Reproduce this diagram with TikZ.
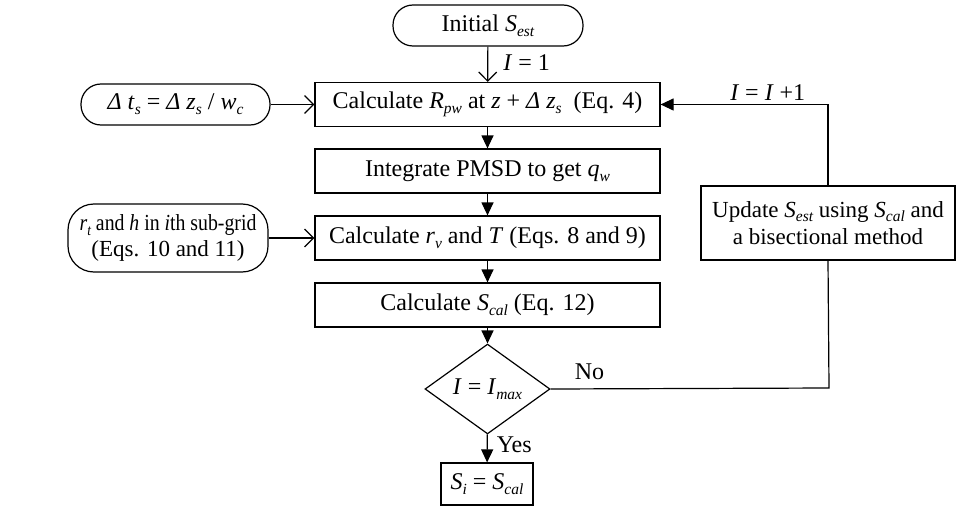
\documentclass[tikz,border=0pt]{standalone}
\usepackage{fontspec}
\setmainfont{Liberation Serif}
\usetikzlibrary{arrows.meta,shapes.geometric}
\newcommand\sbs[1]{\raisebox{-0.2em}{\fontsize{15.5}{15.5}\selectfont\itshape #1}}
\begin{document}
\begin{tikzpicture}[x=1pt,y=-1pt,
  every node/.style={font=\fontsize{24}{27}\selectfont},
  line width=1.2pt,
  procbox/.style={draw,rectangle,minimum width=345pt,minimum height=44pt,inner sep=0pt},
  termbox/.style={draw,rectangle,rounded corners=20pt,inner sep=0pt,align=center},
  decbox/.style={draw,diamond,minimum width=125pt,minimum height=74pt,inner sep=0pt},
  tri/.style={-{Triangle[length=13pt,width=12pt]}},
  barb/.style={-{Straight Barb[length=9pt,width=18pt]}},
  lbl/.style={inner sep=1pt}
]
\useasboundingbox (0,0) rectangle (957,508);
\node[termbox,minimum width=190pt,minimum height=41pt] (init) at (488,25.5) {Initial \textit{S}\sbs{est}};
\node[procbox] (b1) at (487.5,104.5) {Calculate \textit{R}\sbs{pw} at \textit{z} + \textit{Δ z}\sbs{s}\ \ (Eq. 4)};
\node[procbox] (b2) at (487.5,171) {Integrate PMSD to get \textit{q}\sbs{w}};
\node[procbox] (b3) at (487.5,238) {Calculate \textit{r}\sbs{v} and \textit{T} (Eqs. 8 and 9)};
\node[procbox] (b4) at (487.5,305) {Calculate \textit{S}\sbs{cal} (Eq. 12)};
\node[decbox] (dia) at (487.5,389) {\textit{I} = \textit{I}\sbs{max}};
\node[draw,rectangle,minimum width=92pt,minimum height=42pt,inner sep=0pt] (si) at (487,484) {\textit{S}\sbs{i} = \textit{S}\sbs{cal}};
\node[termbox,minimum width=189pt,minimum height=41pt] (l1) at (175.5,104.5) {\textit{Δ t}\sbs{s} = \textit{Δ z}\sbs{s} / \textit{w}\sbs{c}};
\node[termbox,rounded corners=26pt,minimum width=200pt,minimum height=68pt,font=\fontsize{23}{26}\selectfont] (l2) at (168,238) {\scalebox{0.86}[1]{\textit{r}\sbs{t} and \textit{h} in \textit{i}th sub-grid}\\(Eqs. 10 and 11)};
\node[draw,rectangle,minimum width=254pt,minimum height=74pt,inner sep=0pt,align=center,font=\fontsize{23}{27}\selectfont] (upd) at (828,223) {Update \textit{S}\sbs{est} using \textit{S}\sbs{cal} and\\a bisectional method};
\coordinate (cnr) at (829,388);
\draw[barb] (init) -- node[lbl,right,xshift=14pt,yshift=2pt] {\textit{I} = 1} (b1);
\draw[barb] (l1) -- (b1);
\draw[barb] (l2) -- (b3);
\draw[tri] (b1) -- (b2);
\draw[tri] (b2) -- (b3);
\draw[tri] (b3) -- (b4);
\draw[tri] (b4) -- (dia);
\draw[tri] (dia) -- node[lbl,right,xshift=8pt,yshift=4pt] {Yes} (si);
\draw (dia.east) -- node[lbl,above,pos=0.14,yshift=8pt] {No} (cnr) -- (upd.south);
\draw[tri] (upd.north) |- node[lbl,above,pos=0.68,yshift=2pt] {\textit{I} = \textit{I} +1} (b1.east);
\end{tikzpicture}
\end{document}
